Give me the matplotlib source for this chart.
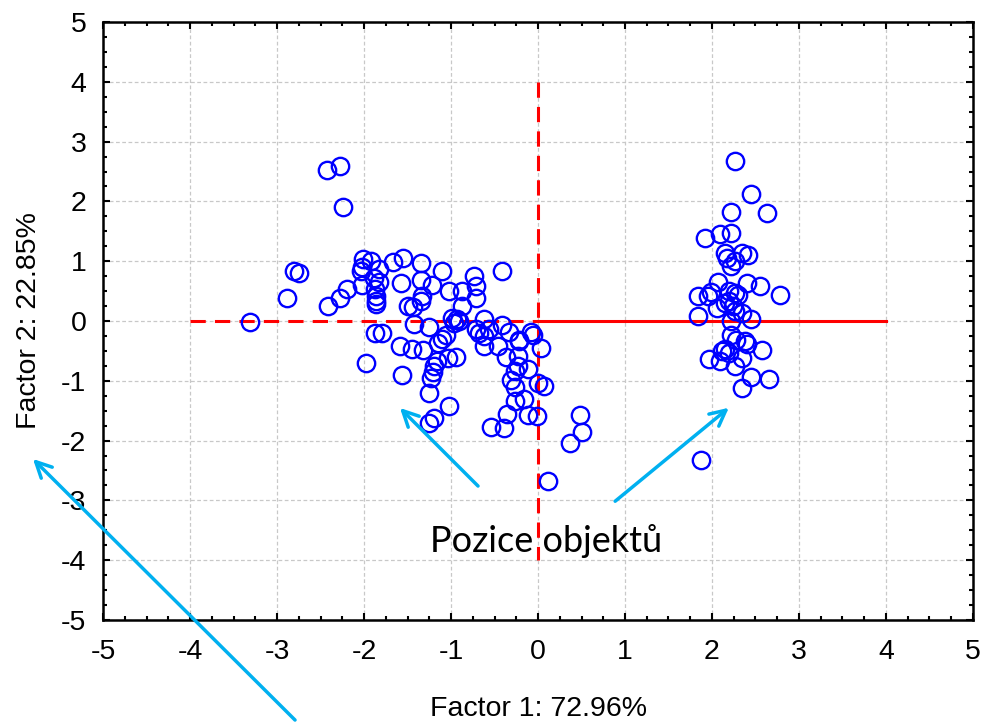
import matplotlib.pyplot as plt
from matplotlib.ticker import MultipleLocator

plt.rcParams['font.family'] = ['Liberation Sans', 'DejaVu Sans']
plt.rcParams['axes.unicode_minus'] = False

# factor scores
left_x = [-2.42, -2.28, -2.24, -2.80, -2.75, -2.88, -3.31, -2.41, -2.28, -2.19,
          -2.01, -1.92, -2.02, -2.04, -1.83, -2.02, -1.89, -1.83, -1.87, -1.86,
          -1.86, -1.86, -1.67, -1.55, -1.35, -1.58, -1.35, -1.22, -1.10, -1.33,
          -1.35, -1.49, -1.44, -1.02, -0.87, -0.74, -0.71, -0.71, -0.87, -0.41,
          -0.99, -0.93, -0.91, -0.96, -1.43, -1.25, -1.87, -1.79, -1.59, -1.45,
          -1.32, -1.98, -1.56, -1.15, -1.10, -1.06, -1.04, -0.94, -1.16, -1.19,
          -1.21, -1.23, -1.25, -1.02, -1.19, -1.25, -0.62, -0.71, -0.68, -0.56,
          -0.62, -0.62, -0.46, -0.41, -0.33, -0.22, -0.08, -0.06, -0.22, 0.04,
          -0.37, -0.23, -0.23, -0.12, -0.27, -0.31, -0.27, 0.00, 0.07, -0.16,
          -0.26, -0.36, -0.12, -0.01, -0.54, -0.39, 0.48, 0.50, 0.37, 0.12]
left_y = [2.53, 2.60, 1.90, 0.83, 0.80, 0.39, -0.01, 0.25, 0.39, 0.54,
          1.03, 1.00, 0.90, 0.83, 0.87, 0.61, 0.72, 0.65, 0.54, 0.42,
          0.33, 0.28, 0.98, 1.06, 0.97, 0.64, 0.68, 0.61, 0.83, 0.41,
          0.33, 0.25, 0.24, 0.50, 0.50, 0.76, 0.58, 0.39, 0.25, 0.83,
          0.05, 0.03, 0.00, -0.03, -0.05, -0.10, -0.20, -0.20, -0.42, -0.46,
          -0.49, -0.71, -0.90, -0.37, -0.30, -0.23, -0.62, -0.60, -0.67, -0.76,
          -0.85, -0.95, -1.20, -1.42, -1.62, -1.71, 0.03, -0.14, -0.20, -0.14,
          -0.25, -0.42, -0.42, -0.06, -0.19, -0.31, -0.19, -0.23, -0.34, -0.45,
          -0.60, -0.59, -0.76, -0.81, -0.84, -0.99, -1.10, -1.04, -1.09, -1.30,
          -1.34, -1.55, -1.57, -1.59, -1.77, -1.79, -1.57, -1.86, -2.04, -2.67]

right_x = [2.27, 2.45, 2.22, 2.63, 1.92, 2.09, 2.22, 2.15, 2.17, 2.34,
           2.41, 2.26, 2.22, 2.07, 2.40, 2.55, 2.78, 1.84, 1.95, 1.99,
           2.19, 2.26, 2.30, 2.15, 2.06, 2.20, 2.24, 2.26, 2.34, 1.84,
           2.45, 2.22, 2.22, 2.28, 2.38, 2.40, 2.57, 2.15, 2.11, 2.20,
           1.97, 2.09, 2.26, 2.34, 2.45, 2.65, 2.35, 1.87]
right_y = [2.68, 2.13, 1.83, 1.80, 1.38, 1.46, 1.47, 1.13, 1.05, 1.13,
           1.10, 1.00, 0.92, 0.65, 0.63, 0.58, 0.43, 0.41, 0.42, 0.48,
           0.50, 0.47, 0.44, 0.30, 0.22, 0.33, 0.25, 0.16, 0.14, 0.08,
           0.03, 0.00, -0.23, -0.31, -0.34, -0.39, -0.49, -0.47, -0.51, -0.53,
           -0.63, -0.67, -0.76, -0.62, -0.93, -0.97, -1.12, -2.33]

obj_x = left_x + right_x
obj_y = left_y + right_y

fig = plt.figure(figsize=(9.85, 7.22), dpi=100)
ax = fig.add_axes([0.1046, 0.1413, 0.8832, 0.8282])

ax.plot([-4, 0], [0, 0], color='red', lw=2.2, ls=(0, (5, 3)), zorder=2)
ax.plot([0, 4], [0, 0], color='red', lw=2.2, zorder=2)
ax.plot([0, 0], [4, -4], color='red', lw=2.2, ls=(0, (5, 3)), zorder=2)

ax.plot(obj_x, obj_y, 'o', mfc='none', mec='blue', ms=12.5, mew=1.7, zorder=3)

ax.set_xlim(-5, 5)
ax.set_ylim(-5, 5)
ax.xaxis.set_major_locator(MultipleLocator(1))
ax.yaxis.set_major_locator(MultipleLocator(1))
ax.xaxis.set_minor_locator(MultipleLocator(0.25))
ax.yaxis.set_minor_locator(MultipleLocator(0.25))
ax.tick_params(which='both', direction='in', top=True, right=True, width=1.5,
               labelsize=20.5)
ax.tick_params(which='major', length=5)
ax.tick_params(axis='x', which='major', pad=14)
ax.tick_params(axis='y', which='major', pad=12)
ax.tick_params(which='minor', length=3)
ax.grid(True, which='major', color='#c8c8c8', ls=(0, (3, 2)), lw=0.9)
for s in ax.spines.values():
    s.set_linewidth(1.8)

ax.set_xlabel('Factor 1: 72.96%', fontsize=20.5, labelpad=22)
ax.set_ylabel('Factor 2: 22.85%', fontsize=20.5, labelpad=14)

fig.text(430 / 985, 1 - 552 / 722, 'Pozice objektů', fontsize=26,
         family=['Lato', 'DejaVu Sans'], va='baseline', zorder=5)

arrow_kw = dict(arrowstyle='->', color='#00B0F0', lw=2.5, mutation_scale=28)
for tail, head in [((480, 488), (398, 406)),
                   ((613, 503), (731, 406)),
                   ((297, 722), (31, 457))]:
    ax.annotate('', xy=(head[0] / 985, 1 - head[1] / 722),
                xytext=(tail[0] / 985, 1 - tail[1] / 722),
                xycoords='figure fraction', textcoords='figure fraction',
                arrowprops=arrow_kw, annotation_clip=False, zorder=6)

fig.savefig('out.png', dpi=100)
